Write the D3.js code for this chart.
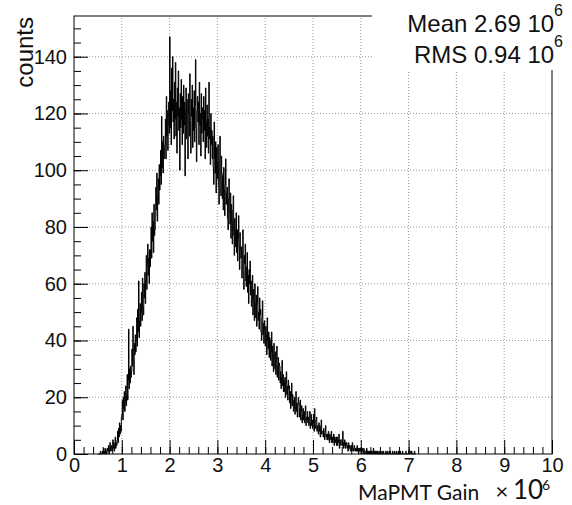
<!DOCTYPE html>
<html>
<head>
<meta charset="utf-8">
<script src="https://cdn.jsdelivr.net/npm/d3@7"></script>
<style>
  html, body { margin: 0; padding: 0; background: #fff; }
  svg { display: block; }
</style>
</head>
<body>
<div id="chart"></div>
<script>
// histogram bins: first lower edge and bin width (x in units of 10^6)
const binStart = 0.5;
const binWidth = 0.01;
// counts per bin (one row = 0.1 in x, from 0.50 to 7.15)
const counts = [
  0, 0, 0, 0, 0, 1, 0, 0, 0, 1,
  0, 1, 2, 0, 1, 0, 2, 1, 0, 1,
  2, 1, 3, 0, 2, 4, 1, 2, 3, 1,
  3, 5, 2, 4, 1, 3, 6, 2, 4, 3,
  5, 8, 4, 9, 6, 11, 7, 10, 8, 13,
  14, 19, 12, 20, 16, 22, 15, 18, 24, 17,
  21, 28, 19, 26, 44, 23, 30, 25, 31, 27,
  29, 37, 31, 45, 33, 28, 39, 35, 42, 36,
  40, 48, 38, 51, 43, 61, 41, 47, 53, 45,
  50, 57, 47, 62, 52, 49, 60, 55, 64, 53,
  61, 70, 58, 67, 74, 63, 69, 60, 72, 66,
  72, 80, 69, 85, 75, 82, 71, 88, 77, 79,
  84, 94, 86, 99, 82, 91, 97, 88, 102, 93,
  98, 107, 95, 119, 101, 110, 99, 112, 104, 108,
  109, 118, 104, 126, 112, 121, 107, 116, 124, 113,
  147, 115, 128, 109, 136, 121, 140, 117, 125, 111,
  131, 118, 138, 112, 124, 106, 129, 119, 135, 114,
  122, 100, 127, 115, 132, 118, 109, 126, 113, 130,
  116, 124, 98, 121, 129, 111, 125, 118, 104, 127,
  120, 112, 134, 117, 106, 125, 119, 130, 108, 122,
  114, 128, 110, 123, 139, 115, 103, 121, 126, 117,
  124, 109, 131, 116, 120, 105, 127, 113, 122, 118,
  110, 126, 114, 121, 104, 129, 117, 108, 123, 112,
  118, 106, 131, 111, 115, 102, 120, 109, 114, 104,
  112, 101, 95, 117, 104, 99, 110, 92, 108, 103,
  97, 109, 94, 88, 103, 112, 96, 91, 105, 99,
  90, 98, 86, 101, 93, 84, 95, 104, 88, 92,
  94, 83, 79, 90, 97, 85, 81, 92, 76, 88,
  82, 74, 86, 91, 77, 70, 83, 79, 73, 85,
  71, 79, 68, 76, 84, 73, 65, 78, 72, 69,
  73, 62, 66, 79, 64, 58, 70, 67, 74, 61,
  59, 66, 71, 57, 63, 53, 65, 60, 68, 56,
  61, 52, 55, 63, 49, 58, 54, 47, 60, 53,
  48, 56, 45, 53, 59, 47, 50, 44, 55, 49,
  51, 43, 40, 48, 54, 42, 46, 39, 47, 44,
  38, 45, 42, 35, 48, 40, 37, 43, 34, 41,
  40, 33, 36, 43, 31, 38, 35, 29, 39, 34,
  30, 36, 28, 33, 38, 27, 31, 34, 26, 32,
  31, 25, 29, 23, 27, 33, 24, 28, 22, 26,
  22, 27, 20, 25, 29, 21, 24, 19, 26, 23,
  24, 18, 22, 16, 20, 25, 17, 21, 19, 15,
  16, 20, 14, 19, 22, 15, 18, 13, 17, 20,
  18, 13, 16, 19, 12, 15, 17, 11, 14, 16,
  12, 15, 11, 14, 17, 10, 13, 12, 15, 11,
  13, 10, 12, 15, 9, 11, 14, 10, 12, 9,
  11, 14, 8, 16, 10, 9, 12, 13, 8, 10,
  9, 7, 11, 8, 10, 6, 9, 12, 7, 8,
  8, 6, 9, 7, 5, 8, 10, 6, 7, 5,
  7, 5, 8, 6, 4, 7, 6, 5, 8, 4,
  6, 4, 5, 7, 3, 6, 5, 4, 6, 3,
  6, 3, 5, 4, 7, 2, 5, 4, 3, 5,
  5, 3, 8, 2, 4, 3, 5, 2, 4, 3,
  4, 2, 3, 1, 4, 2, 3, 2, 1, 3,
  3, 1, 4, 2, 2, 1, 3, 2, 1, 2,
  2, 1, 3, 1, 2, 0, 2, 1, 2, 1,
  2, 0, 1, 2, 1, 0, 2, 1, 0, 1,
  1, 0, 2, 0, 1, 1, 0, 1, 0, 1,
  0, 1, 0, 1, 0, 0, 2, 0, 1, 0,
  1, 0, 0, 1, 0, 1, 0, 0, 1, 0,
  0, 1, 0, 0, 1, 0, 0, 1, 0, 0,
  0, 0, 1, 0, 0, 1, 0, 0, 0, 1,
  0, 1, 0, 0, 0, 0, 1, 0, 0, 0,
  1, 0, 0, 0, 1, 0, 0, 0, 1, 0,
  0, 0, 1, 0, 0, 0, 0, 1, 0, 0,
  0, 0, 0, 0, 1, 0, 0, 0, 0, 0,
  1, 0, 0, 1, 1, 0, 1, 0, 0, 0,
  0, 0, 1, 0, 0
];
const xMajorTicks = [0, 1, 2, 3, 4, 5, 6, 7, 8, 9, 10];
const yMajorTicks = [0, 20, 40, 60, 80, 100, 120, 140];
const statLabels = ["Mean 2.69 10", "RMS 0.94 10"];
const statExponent = "6";
const xTitle = "MaPMT Gain";
const yTitle = "counts";

const width = 572;
const height = 505;
const margin = { top: 16, right: 20, bottom: 51, left: 74 };
const yMax = 154.35;

const svg = d3.select("#chart")
  .append("svg")
  .attr("width", width)
  .attr("height", height)
  .style("font-family", "'Liberation Sans', Arial, sans-serif");

const x = d3.scaleLinear().domain([0, 10]).range([margin.left, width - margin.right]);
const y = d3.scaleLinear().domain([0, yMax]).range([height - margin.bottom, margin.top]);

// dotted grid
svg.append("g")
  .selectAll("line")
  .data(xMajorTicks.filter(d => d > 0 && d < 10))
  .join("line")
  .attr("x1", d => x(d)).attr("x2", d => x(d))
  .attr("y1", y(0)).attr("y2", y(yMax))
  .attr("stroke", "#999").attr("stroke-dasharray", "1,2");
svg.append("g")
  .selectAll("line")
  .data(yMajorTicks.filter(d => d > 0))
  .join("line")
  .attr("x1", x(0)).attr("x2", x(10))
  .attr("y1", d => y(d)).attr("y2", d => y(d))
  .attr("stroke", "#999").attr("stroke-dasharray", "1,2");

// histogram outline
const bins = counts.map((c, i) => ({ x0: binStart + i * binWidth, c }));
bins.push({ x0: binStart + counts.length * binWidth, c: 0 });
const line = d3.line()
  .x(d => x(d.x0))
  .y(d => y(d.c))
  .curve(d3.curveStepAfter);
svg.append("path")
  .datum(bins)
  .attr("d", line)
  .attr("fill", "none")
  .attr("stroke", "#000")
  .attr("stroke-width", 1);

// frame
svg.append("rect")
  .attr("x", x(0)).attr("y", y(yMax))
  .attr("width", x(10) - x(0)).attr("height", y(0) - y(yMax))
  .attr("fill", "none").attr("stroke", "#000");

// axes with inward ticks
const fs = "20px";
svg.append("g")
  .attr("transform", `translate(0,${y(0)})`)
  .call(d3.axisBottom(x).tickValues(xMajorTicks).tickSize(-14).tickPadding(4).tickFormat(d3.format("d")));
svg.append("g")
  .attr("transform", `translate(0,${y(0)})`)
  .call(d3.axisBottom(x).tickValues(d3.range(0, 50).map(i => i * 0.2)).tickSize(-7).tickFormat(""));
svg.append("g")
  .attr("transform", `translate(${x(0)},0)`)
  .call(d3.axisLeft(y).tickValues(yMajorTicks).tickSize(-14).tickPadding(7));
svg.append("g")
  .attr("transform", `translate(${x(0)},0)`)
  .call(d3.axisLeft(y).tickValues(d3.range(0, 31).map(i => i * 5)).tickSize(-7).tickFormat(""));
svg.selectAll(".domain").remove();
svg.selectAll(".tick line").attr("stroke", "#000");
svg.selectAll(".tick text")
  .attr("fill", "#111")
  .style("font-size", fs)
  .style("font-family", "'Liberation Sans', Arial, sans-serif");

// stat box (covers top right of frame)
svg.append("rect")
  .attr("x", 372).attr("y", 0)
  .attr("width", width - 372).attr("height", 70)
  .attr("fill", "#fff");
statLabels.forEach((s, i) => {
  const t = svg.append("text")
    .attr("x", 563)
    .attr("y", 32 + i * 31)
    .attr("text-anchor", "end")
    .attr("fill", "#111")
    .style("font-size", "24px");
  t.append("tspan").text(s);
  t.append("tspan").attr("dy", -16).style("font-size", "16px").text(statExponent);
});

// axis titles
svg.append("text")
  .attr("transform", `translate(33,17) rotate(-90)`)
  .attr("text-anchor", "end")
  .attr("fill", "#111")
  .style("font-size", "24px")
  .text(yTitle);

const tfont = "Lato, 'Open Sans', sans-serif";
svg.append("text")
  .attr("x", 358).attr("y", 500)
  .attr("fill", "#111")
  .style("font-family", tfont)
  .style("font-size", "21px")
  .text(xTitle);
svg.append("text")
  .attr("x", 502).attr("y", 499)
  .attr("text-anchor", "middle")
  .attr("fill", "#111")
  .style("font-family", tfont)
  .style("font-size", "22px")
  .text("×");
svg.append("text")
  .attr("x", 513).attr("y", 499)
  .attr("fill", "#111")
  .style("font-family", tfont)
  .style("font-size", "26px")
  .text("10");
svg.append("text")
  .attr("x", 542).attr("y", 490)
  .attr("fill", "#111")
  .style("font-family", tfont)
  .style("font-size", "14px")
  .text("6");
</script>
</body>
</html>
